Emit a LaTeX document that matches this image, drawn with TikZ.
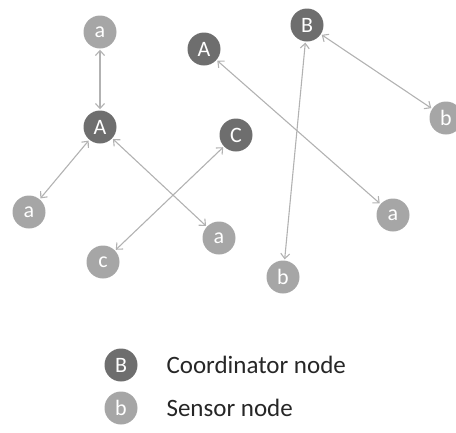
\documentclass[tikz,border=0pt]{standalone}
\usepackage{fontspec}
\setmainfont{Carlito}
\usetikzlibrary{arrows.meta}
\definecolor{darknode}{HTML}{6E6E6E}
\definecolor{lightnode}{HTML}{A6A6A6}
\definecolor{edgegray}{HTML}{B2B2B2}
\definecolor{legtext}{HTML}{262626}
\begin{document}
\begin{tikzpicture}[x=1pt,y=-1pt,
  coord/.style={circle,fill=darknode,text=white,minimum size=33pt,inner sep=0pt,font=\fontsize{22}{22}\selectfont},
  sensor/.style={circle,fill=lightnode,text=white,minimum size=33pt,inner sep=0pt,font=\fontsize{22}{22}\selectfont},
  link/.style={draw=edgegray,line width=1.1pt,{Straight Barb[length=5pt,width=9pt]}-{Straight Barb[length=5pt,width=9pt]},shorten <=1pt,shorten >=1pt},
  legendtext/.style={anchor=west,text=legtext,font=\fontsize{25}{25}\selectfont}]
\useasboundingbox (0,0) rectangle (456,432);
% nodes
\node[sensor] (a1) at (100,32) {a};
\node[coord] (A1) at (100,127) {A};
\node[sensor] (a2) at (29,212) {a};
\node[sensor] (a3) at (219,238) {a};
\node[sensor] (c1) at (103,262) {c};
\node[coord] (C1) at (236,135) {C};
\node[coord] (A2) at (204,49) {A};
\node[coord] (B1) at (307,25) {B};
\node[sensor] (b1) at (446,118) {b};
\node[sensor] (a4) at (393,215) {a};
\node[sensor] (b2) at (283,277) {b};
% links
\draw[link] (a1) -- (A1);
\draw[link] (A1) -- (a2);
\draw[link] (A1) -- (a3);
\draw[link] (C1) -- (c1);
\draw[link] (A2) -- (a4);
\draw[link] (B1) -- (b2);
\draw[link] (B1) -- (b1);
% legend
\node[coord] (LB) at (121,365) {B};
\node[sensor] (Lb) at (121,408) {b};
\node[legendtext] (LBt) at (163,365) {Coordinator node};
\node[legendtext] (Lbt) at (163,408) {Sensor node};
\end{tikzpicture}
\end{document}
